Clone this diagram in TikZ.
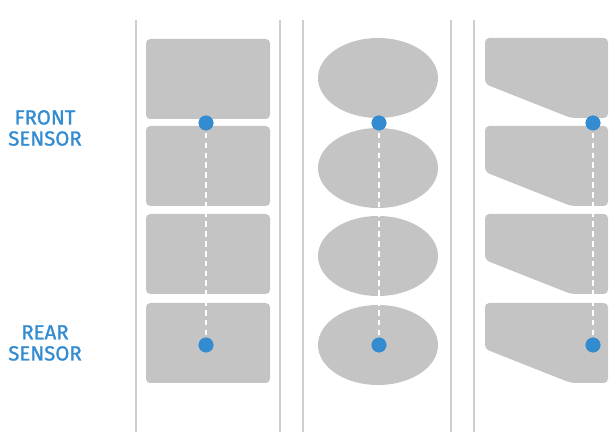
\documentclass[tikz,border=0pt]{standalone}
\usepackage{fontspec}
\newfontfamily\tagfont{Fira Sans}[FakeBold=1.3]
\definecolor{padgray}{RGB}{196,196,196}
\definecolor{railgray}{RGB}{206,206,206}
\definecolor{sensorblue}{RGB}{52,140,208}
\tikzset{
  pad/.style={fill=padgray,rounded corners=3},
  rail/.style={railgray,line width=1.1pt},
  probe/.style={white,line width=1.1pt,dash pattern=on 4pt off 3pt},
  sensor/.style={circle,fill=sensorblue,inner sep=0pt,minimum size=0.37cm},
  tag/.style={text=sensorblue,font=\tagfont\fontsize{14.5}{15}\selectfont,align=center}
}
\begin{document}
\begin{tikzpicture}[x=0.025cm,y=-0.025cm]
  \useasboundingbox (0,0) rectangle (613,432);
  % rails between the columns
  \foreach \x in {136,280,303,451,474}
  \draw[rail] (\x,20) -- (\x,432);

  % column 1: rectangles
  \foreach \y in {39,126,214,303}
  \fill[pad] (146,\y) rectangle (270,\y+80);
  % column 2: ellipses
  \foreach \y in {78,168,256,345}
  \fill[padgray] (378,\y) ellipse (60 and 40);
  % column 3: wedges
  \foreach \y in {38,126,214,303}
  \fill[pad] (485,\y) -- (608,\y) -- (608,\y+80) -- (571,\y+80)
  -- (485,\y+46) -- cycle;

  % sensors
  \node[sensor] (front1) at (206,123) {};
  \node[sensor] (rear1) at (206,345) {};
  \node[sensor] (front2) at (379,123) {};
  \node[sensor] (rear2) at (379,345) {};
  \node[sensor] (front3) at (593,123) {};
  \node[sensor] (rear3) at (593,345) {};
  \foreach \i in {1,2,3}
  \draw[probe] (front\i.center) -- (rear\i.center);
  \foreach \i in {1,2,3}
  \node[sensor] at (front\i) {};
  \foreach \i in {1,2,3}
  \node[sensor] at (rear\i) {};

  \node[tag] (fronttag) at (45,128) {FRONT\\SENSOR};
  \node[tag] (reartag) at (45,343) {REAR\\SENSOR};
\end{tikzpicture}
\end{document}
